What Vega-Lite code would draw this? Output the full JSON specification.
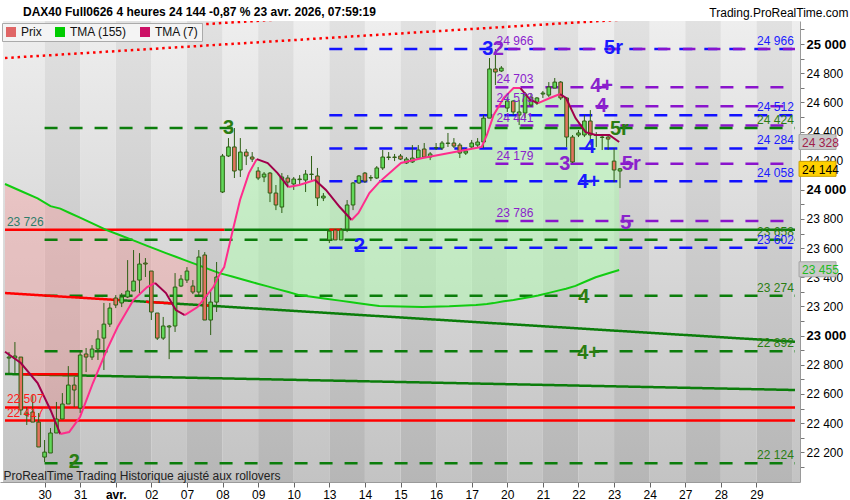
{
  "$schema": "https://vega.github.io/schema/vega-lite/v6.json",
  "width": 800,
  "height": 461,
  "autosize": "none",
  "padding": {"left": 0, "top": 21, "right": 50, "bottom": 18},
  "background": "#ffffff",
  "title": {
    "text": "DAX40 Full0626 4 heures 24 144 -0,87 % 23 avr. 2026, 07:59:19",
    "anchor": "start",
    "frame": "group",
    "dx": 23,
    "offset": -13,
    "fontSize": 12,
    "fontWeight": "bold",
    "color": "#000000"
  },
  "config": {
    "font": "Liberation Sans",
    "view": {"stroke": null},
    "axis": {"labelOverlap": false}
  },
  "datasets": {
    "bands": [
      {"k": 0, "i0": -1, "i1": 6}, {"k": 1, "i0": 6, "i1": 12}, {"k": 2, "i0": 12, "i1": 18},
      {"k": 3, "i0": 18, "i1": 24}, {"k": 4, "i0": 24, "i1": 30}, {"k": 5, "i0": 30, "i1": 36},
      {"k": 6, "i0": 36, "i1": 42}, {"k": 7, "i0": 42, "i1": 48}, {"k": 8, "i0": 48, "i1": 54},
      {"k": 9, "i0": 54, "i1": 60}, {"k": 10, "i0": 60, "i1": 66}, {"k": 11, "i0": 66, "i1": 72},
      {"k": 12, "i0": 72, "i1": 78}, {"k": 13, "i0": 78, "i1": 84}, {"k": 14, "i0": 84, "i1": 90},
      {"k": 15, "i0": 90, "i1": 96}, {"k": 16, "i0": 96, "i1": 102}, {"k": 17, "i0": 102, "i1": 108},
      {"k": 18, "i0": 108, "i1": 114}, {"k": 19, "i0": 114, "i1": 120}, {"k": 20, "i0": 120, "i1": 126},
      {"k": 21, "i0": 126, "i1": 132}, {"k": 22, "i0": 132, "i1": 138}
    ],
    "candles": [
      {"i": 0, "o": 22846, "h": 22887, "l": 22743, "c": 22853},
      {"i": 1, "o": 22846, "h": 22956, "l": 22743, "c": 22860},
      {"i": 2, "o": 22853, "h": 22853, "l": 22455, "c": 22490},
      {"i": 3, "o": 22455, "h": 22510, "l": 22387, "c": 22469},
      {"i": 4, "o": 22476, "h": 22593, "l": 22407, "c": 22407},
      {"i": 5, "o": 22407, "h": 22469, "l": 22236, "c": 22236},
      {"i": 6, "o": 22167, "h": 22284, "l": 22133, "c": 22201},
      {"i": 7, "o": 22195, "h": 22366, "l": 22195, "c": 22332},
      {"i": 8, "o": 22332, "h": 22545, "l": 22332, "c": 22428},
      {"i": 9, "o": 22428, "h": 22606, "l": 22428, "c": 22531},
      {"i": 10, "o": 22531, "h": 22791, "l": 22531, "c": 22661},
      {"i": 11, "o": 22661, "h": 22716, "l": 22510, "c": 22627},
      {"i": 12, "o": 22503, "h": 22901, "l": 22469, "c": 22867},
      {"i": 13, "o": 22874, "h": 22915, "l": 22750, "c": 22853},
      {"i": 14, "o": 22853, "h": 22935, "l": 22833, "c": 22908},
      {"i": 15, "o": 22908, "h": 23038, "l": 22833, "c": 22977},
      {"i": 16, "o": 22983, "h": 23224, "l": 22764, "c": 23079},
      {"i": 17, "o": 23079, "h": 23224, "l": 23059, "c": 23189},
      {"i": 18, "o": 23258, "h": 23278, "l": 23189, "c": 23210},
      {"i": 19, "o": 23224, "h": 23292, "l": 23196, "c": 23265},
      {"i": 20, "o": 23265, "h": 23518, "l": 23258, "c": 23306},
      {"i": 21, "o": 23306, "h": 23587, "l": 23306, "c": 23374},
      {"i": 22, "o": 23381, "h": 23566, "l": 23292, "c": 23491},
      {"i": 23, "o": 23498, "h": 23532, "l": 23402, "c": 23491},
      {"i": 24, "o": 23443, "h": 23443, "l": 23107, "c": 23162},
      {"i": 25, "o": 23155, "h": 23155, "l": 22970, "c": 22983},
      {"i": 26, "o": 22983, "h": 23128, "l": 22970, "c": 23066},
      {"i": 27, "o": 23059, "h": 23073, "l": 22839, "c": 23066},
      {"i": 28, "o": 23066, "h": 23429, "l": 23025, "c": 23333},
      {"i": 29, "o": 23340, "h": 23416, "l": 23333, "c": 23388},
      {"i": 30, "o": 23381, "h": 23470, "l": 23361, "c": 23443},
      {"i": 31, "o": 23340, "h": 23381, "l": 23285, "c": 23299},
      {"i": 32, "o": 23299, "h": 23587, "l": 23265, "c": 23539},
      {"i": 33, "o": 23553, "h": 23573, "l": 23107, "c": 23107},
      {"i": 34, "o": 23107, "h": 23313, "l": 23004, "c": 23230},
      {"i": 35, "o": 23230, "h": 23505, "l": 23162, "c": 23402},
      {"i": 36, "o": 23985, "h": 24246, "l": 23978, "c": 24232},
      {"i": 37, "o": 24232, "h": 24355, "l": 24225, "c": 24294},
      {"i": 38, "o": 24294, "h": 24424, "l": 24081, "c": 24129},
      {"i": 39, "o": 24136, "h": 24355, "l": 24088, "c": 24259},
      {"i": 40, "o": 24259, "h": 24280, "l": 24170, "c": 24232},
      {"i": 41, "o": 24225, "h": 24259, "l": 24191, "c": 24211},
      {"i": 42, "o": 24129, "h": 24156, "l": 24067, "c": 24081},
      {"i": 43, "o": 24088, "h": 24122, "l": 24053, "c": 24108},
      {"i": 44, "o": 24115, "h": 24122, "l": 23916, "c": 23978},
      {"i": 45, "o": 23978, "h": 24033, "l": 23861, "c": 23896},
      {"i": 46, "o": 23882, "h": 24115, "l": 23841, "c": 24088},
      {"i": 47, "o": 24081, "h": 24101, "l": 24019, "c": 24053},
      {"i": 48, "o": 24040, "h": 24088, "l": 23999, "c": 24074},
      {"i": 49, "o": 24074, "h": 24101, "l": 24033, "c": 24070},
      {"i": 50, "o": 24067, "h": 24136, "l": 23985, "c": 24108},
      {"i": 51, "o": 24105, "h": 24232, "l": 24067, "c": 24108},
      {"i": 52, "o": 24095, "h": 24150, "l": 23889, "c": 23944},
      {"i": 53, "o": 23944, "h": 23978, "l": 23923, "c": 23957},
      {"i": 54, "o": 23656, "h": 23724, "l": 23635, "c": 23717},
      {"i": 55, "o": 23724, "h": 23731, "l": 23656, "c": 23656},
      {"i": 56, "o": 23656, "h": 23738, "l": 23656, "c": 23724},
      {"i": 57, "o": 23731, "h": 23930, "l": 23710, "c": 23896},
      {"i": 58, "o": 23896, "h": 24053, "l": 23861, "c": 24047},
      {"i": 59, "o": 24047, "h": 24101, "l": 24040, "c": 24095},
      {"i": 60, "o": 24115, "h": 24122, "l": 24047, "c": 24060},
      {"i": 61, "o": 24081, "h": 24101, "l": 24060, "c": 24084},
      {"i": 62, "o": 24081, "h": 24163, "l": 24074, "c": 24150},
      {"i": 63, "o": 24150, "h": 24273, "l": 24136, "c": 24225},
      {"i": 64, "o": 24222, "h": 24259, "l": 24204, "c": 24225},
      {"i": 65, "o": 24225, "h": 24246, "l": 24197, "c": 24222},
      {"i": 66, "o": 24232, "h": 24246, "l": 24204, "c": 24211},
      {"i": 67, "o": 24184, "h": 24225, "l": 24177, "c": 24211},
      {"i": 68, "o": 24191, "h": 24307, "l": 24184, "c": 24218},
      {"i": 69, "o": 24218, "h": 24307, "l": 24218, "c": 24273},
      {"i": 70, "o": 24280, "h": 24321, "l": 24218, "c": 24225},
      {"i": 71, "o": 24225, "h": 24259, "l": 24204, "c": 24246},
      {"i": 72, "o": 24287, "h": 24321, "l": 24273, "c": 24290},
      {"i": 73, "o": 24287, "h": 24335, "l": 24273, "c": 24321},
      {"i": 74, "o": 24318, "h": 24390, "l": 24294, "c": 24321},
      {"i": 75, "o": 24321, "h": 24355, "l": 24287, "c": 24300},
      {"i": 76, "o": 24307, "h": 24321, "l": 24218, "c": 24252},
      {"i": 77, "o": 24252, "h": 24287, "l": 24239, "c": 24266},
      {"i": 78, "o": 24294, "h": 24342, "l": 24287, "c": 24321},
      {"i": 79, "o": 24307, "h": 24355, "l": 24294, "c": 24328},
      {"i": 80, "o": 24328, "h": 24513, "l": 24287, "c": 24492},
      {"i": 81, "o": 24492, "h": 24904, "l": 24492, "c": 24829},
      {"i": 82, "o": 24829, "h": 24966, "l": 24719, "c": 24808},
      {"i": 83, "o": 24815, "h": 24849, "l": 24808, "c": 24835},
      {"i": 84, "o": 24561, "h": 24636, "l": 24534, "c": 24609},
      {"i": 85, "o": 24609, "h": 24616, "l": 24513, "c": 24534},
      {"i": 86, "o": 24513, "h": 24616, "l": 24444, "c": 24534},
      {"i": 87, "o": 24527, "h": 24671, "l": 24492, "c": 24657},
      {"i": 88, "o": 24582, "h": 24664, "l": 24568, "c": 24636},
      {"i": 89, "o": 24595, "h": 24636, "l": 24582, "c": 24630},
      {"i": 90, "o": 24657, "h": 24678, "l": 24630, "c": 24664},
      {"i": 91, "o": 24650, "h": 24739, "l": 24636, "c": 24705},
      {"i": 92, "o": 24698, "h": 24767, "l": 24698, "c": 24739},
      {"i": 93, "o": 24739, "h": 24746, "l": 24616, "c": 24630},
      {"i": 94, "o": 24630, "h": 24636, "l": 24294, "c": 24362},
      {"i": 95, "o": 24362, "h": 24376, "l": 24184, "c": 24191},
      {"i": 96, "o": 24376, "h": 24410, "l": 24362, "c": 24390},
      {"i": 97, "o": 24376, "h": 24513, "l": 24362, "c": 24472},
      {"i": 98, "o": 24472, "h": 24547, "l": 24307, "c": 24376},
      {"i": 99, "o": 24376, "h": 24396, "l": 24294, "c": 24373},
      {"i": 100, "o": 24362, "h": 24383, "l": 24273, "c": 24359},
      {"i": 101, "o": 24362, "h": 24376, "l": 24273, "c": 24348},
      {"i": 102, "o": 24197, "h": 24287, "l": 24053, "c": 24136},
      {"i": 103, "o": 24129, "h": 24150, "l": 24012, "c": 24144}
    ],
    "ma": [
      {"i": -0.67, "a": 22889, "b": 24040}, {"i": 2.0, "a": 22812, "b": 23992},
      {"i": 4.83, "a": 22675, "b": 23941}, {"i": 7.0, "a": 22490, "b": 23888},
      {"i": 8.66, "a": 22325, "b": 23871}, {"i": 10.15, "a": 22339, "b": 23843},
      {"i": 11.98, "a": 22442, "b": 23809}, {"i": 14.15, "a": 22675, "b": 23768},
      {"i": 16.48, "a": 22901, "b": 23724}, {"i": 18.31, "a": 23059, "b": 23695},
      {"i": 20.97, "a": 23244, "b": 23653}, {"i": 23.3, "a": 23333, "b": 23616},
      {"i": 24.63, "a": 23361, "b": 23595}, {"i": 26.46, "a": 23292, "b": 23566},
      {"i": 28.13, "a": 23175, "b": 23541}, {"i": 29.63, "a": 23141, "b": 23518},
      {"i": 31.79, "a": 23196, "b": 23485}, {"i": 34.45, "a": 23333, "b": 23444},
      {"i": 35.6, "a": 23427, "b": 23427}, {"i": 36.28, "a": 23470, "b": 23420},
      {"i": 37.62, "a": 23704, "b": 23405}, {"i": 38.95, "a": 23930, "b": 23390},
      {"i": 40.45, "a": 24115, "b": 23373}, {"i": 41.78, "a": 24211, "b": 23358},
      {"i": 43.61, "a": 24184, "b": 23338}, {"i": 45.27, "a": 24115, "b": 23319},
      {"i": 47.1, "a": 24019, "b": 23299}, {"i": 48.93, "a": 24033, "b": 23278},
      {"i": 51.6, "a": 24067, "b": 23263}, {"i": 53.43, "a": 23999, "b": 23253},
      {"i": 55.76, "a": 23882, "b": 23240}, {"i": 57.76, "a": 23793, "b": 23229},
      {"i": 58.92, "a": 23841, "b": 23222}, {"i": 60.75, "a": 23978, "b": 23212},
      {"i": 62.42, "a": 24053, "b": 23203}, {"i": 66.08, "a": 24184, "b": 23200},
      {"i": 69.74, "a": 24218, "b": 23197}, {"i": 74.23, "a": 24252, "b": 23201},
      {"i": 78.73, "a": 24287, "b": 23210}, {"i": 79.7, "a": 24294, "b": 23214},
      {"i": 80.56, "a": 24376, "b": 23217}, {"i": 81.7, "a": 24513, "b": 23223},
      {"i": 83.4, "a": 24630, "b": 23236}, {"i": 85.05, "a": 24698, "b": 23244},
      {"i": 86.2, "a": 24698, "b": 23253}, {"i": 87.9, "a": 24616, "b": 23265},
      {"i": 89.2, "a": 24595, "b": 23275}, {"i": 91.2, "a": 24630, "b": 23295},
      {"i": 92.9, "a": 24657, "b": 23312}, {"i": 93.9, "a": 24630, "b": 23322},
      {"i": 95.5, "a": 24492, "b": 23341}, {"i": 97.2, "a": 24396, "b": 23371},
      {"i": 98.9, "a": 24376, "b": 23400}, {"i": 101.2, "a": 24376, "b": 23429},
      {"i": 102.86, "a": 24328, "b": 23450}
    ],
    "ma7": [
      {"s": 1, "dir": "down", "i": -0.67, "v": 22889}, {"s": 1, "dir": "down", "i": 2.0, "v": 22812},
      {"s": 1, "dir": "down", "i": 4.83, "v": 22675}, {"s": 1, "dir": "down", "i": 7.0, "v": 22490},
      {"s": 1, "dir": "down", "i": 8.66, "v": 22325},
      {"s": 2, "dir": "up", "i": 8.66, "v": 22325}, {"s": 2, "dir": "up", "i": 10.15, "v": 22339},
      {"s": 2, "dir": "up", "i": 11.98, "v": 22442}, {"s": 2, "dir": "up", "i": 14.15, "v": 22675},
      {"s": 2, "dir": "up", "i": 16.48, "v": 22901}, {"s": 2, "dir": "up", "i": 18.31, "v": 23059},
      {"s": 2, "dir": "up", "i": 20.97, "v": 23244}, {"s": 2, "dir": "up", "i": 23.3, "v": 23333},
      {"s": 2, "dir": "up", "i": 24.63, "v": 23361},
      {"s": 3, "dir": "down", "i": 24.63, "v": 23361}, {"s": 3, "dir": "down", "i": 26.46, "v": 23292},
      {"s": 3, "dir": "down", "i": 28.13, "v": 23175}, {"s": 3, "dir": "down", "i": 29.63, "v": 23141},
      {"s": 4, "dir": "up", "i": 29.63, "v": 23141}, {"s": 4, "dir": "up", "i": 31.79, "v": 23196},
      {"s": 4, "dir": "up", "i": 34.45, "v": 23333}, {"s": 4, "dir": "up", "i": 35.6, "v": 23427},
      {"s": 4, "dir": "up", "i": 36.28, "v": 23470}, {"s": 4, "dir": "up", "i": 37.62, "v": 23704},
      {"s": 4, "dir": "up", "i": 38.95, "v": 23930}, {"s": 4, "dir": "up", "i": 40.45, "v": 24115},
      {"s": 4, "dir": "up", "i": 41.78, "v": 24211},
      {"s": 5, "dir": "down", "i": 41.78, "v": 24211}, {"s": 5, "dir": "down", "i": 43.61, "v": 24184},
      {"s": 5, "dir": "down", "i": 45.27, "v": 24115}, {"s": 5, "dir": "down", "i": 47.1, "v": 24019},
      {"s": 6, "dir": "up", "i": 47.1, "v": 24019}, {"s": 6, "dir": "up", "i": 48.93, "v": 24033},
      {"s": 6, "dir": "up", "i": 51.6, "v": 24067},
      {"s": 7, "dir": "down", "i": 51.6, "v": 24067}, {"s": 7, "dir": "down", "i": 53.43, "v": 23999},
      {"s": 7, "dir": "down", "i": 55.76, "v": 23882}, {"s": 7, "dir": "down", "i": 57.76, "v": 23793},
      {"s": 8, "dir": "up", "i": 57.76, "v": 23793}, {"s": 8, "dir": "up", "i": 58.92, "v": 23841},
      {"s": 8, "dir": "up", "i": 60.75, "v": 23978}, {"s": 8, "dir": "up", "i": 62.42, "v": 24053},
      {"s": 8, "dir": "up", "i": 66.08, "v": 24184}, {"s": 8, "dir": "up", "i": 69.74, "v": 24218},
      {"s": 8, "dir": "up", "i": 74.23, "v": 24252}, {"s": 8, "dir": "up", "i": 78.73, "v": 24287},
      {"s": 8, "dir": "up", "i": 79.7, "v": 24294}, {"s": 8, "dir": "up", "i": 80.56, "v": 24376},
      {"s": 8, "dir": "up", "i": 81.7, "v": 24513}, {"s": 8, "dir": "up", "i": 83.4, "v": 24630},
      {"s": 8, "dir": "up", "i": 85.05, "v": 24698}, {"s": 8, "dir": "up", "i": 86.2, "v": 24698},
      {"s": 9, "dir": "down", "i": 86.2, "v": 24698}, {"s": 9, "dir": "down", "i": 87.9, "v": 24616},
      {"s": 9, "dir": "down", "i": 89.2, "v": 24595},
      {"s": 10, "dir": "up", "i": 89.2, "v": 24595}, {"s": 10, "dir": "up", "i": 91.2, "v": 24630},
      {"s": 10, "dir": "up", "i": 92.9, "v": 24657},
      {"s": 11, "dir": "down", "i": 92.9, "v": 24657}, {"s": 11, "dir": "down", "i": 93.9, "v": 24630},
      {"s": 11, "dir": "down", "i": 95.5, "v": 24492}, {"s": 11, "dir": "down", "i": 97.2, "v": 24396},
      {"s": 11, "dir": "down", "i": 98.9, "v": 24376}, {"s": 11, "dir": "down", "i": 101.2, "v": 24376},
      {"s": 11, "dir": "down", "i": 102.86, "v": 24328}
    ],
    "lines": [
      {"i0": 54, "i1": 132.5, "p0": 24966, "p1": 24966, "col": "b", "sty": "dash"},
      {"i0": 82, "i1": 132.5, "p0": 24966, "p1": 24966, "col": "p", "sty": "dash2"},
      {"i0": 82, "i1": 132.5, "p0": 24703, "p1": 24703, "col": "p", "sty": "dash"},
      {"i0": 82, "i1": 132.5, "p0": 24573, "p1": 24573, "col": "p", "sty": "dash"},
      {"i0": 54, "i1": 132.5, "p0": 24512, "p1": 24512, "col": "b", "sty": "dash"},
      {"i0": 82, "i1": 132.5, "p0": 24441, "p1": 24441, "col": "p", "sty": "dash"},
      {"i0": 6, "i1": 132.5, "p0": 24424, "p1": 24424, "col": "g", "sty": "dash"},
      {"i0": 54, "i1": 132.5, "p0": 24284, "p1": 24284, "col": "b", "sty": "dash"},
      {"i0": 82, "i1": 132.5, "p0": 24179, "p1": 24179, "col": "p", "sty": "dash"},
      {"i0": 54, "i1": 132.5, "p0": 24058, "p1": 24058, "col": "b", "sty": "dash"},
      {"i0": 82, "i1": 132.5, "p0": 23786, "p1": 23786, "col": "p", "sty": "dash"},
      {"i0": 36.3, "i1": 132.5, "p0": 23726, "p1": 23726, "col": "g", "sty": "solid"},
      {"i0": -0.67, "i1": 36.3, "p0": 23726, "p1": 23726, "col": "r", "sty": "solid"},
      {"i0": 54, "i1": 56, "p0": 23726, "p1": 23726, "col": "r", "sty": "solid"},
      {"i0": 6, "i1": 132.5, "p0": 23658, "p1": 23658, "col": "g", "sty": "dash"},
      {"i0": 54, "i1": 132.5, "p0": 23602, "p1": 23602, "col": "b", "sty": "dash"},
      {"i0": 6, "i1": 132.5, "p0": 23274, "p1": 23274, "col": "g", "sty": "dash"},
      {"i0": 6, "i1": 132.5, "p0": 22892, "p1": 22892, "col": "g", "sty": "dash"},
      {"i0": 6, "i1": 132.5, "p0": 22124, "p1": 22124, "col": "g", "sty": "dash"},
      {"i0": -0.67, "i1": 132.5, "p0": 22507, "p1": 22507, "col": "r", "sty": "solid"},
      {"i0": -0.67, "i1": 132.5, "p0": 22417, "p1": 22417, "col": "r", "sty": "solid"},
      {"i0": 18.8, "i1": 132.5, "p0": 23243, "p1": 22958, "col": "g", "sty": "solid"},
      {"i0": -0.67, "i1": 18.8, "p0": 23292, "p1": 23243, "col": "r", "sty": "solid"},
      {"i0": 23.1, "i1": 27.6, "p0": 23232, "p1": 23221, "col": "r", "sty": "solid"},
      {"i0": 32.6, "i1": 34, "p0": 23208, "p1": 23205, "col": "r", "sty": "solid"},
      {"i0": -0.67, "i1": 132.5, "p0": 22737, "p1": 22627, "col": "g", "sty": "solid"},
      {"i0": 2.2, "i1": 12.2, "p0": 22735, "p1": 22735, "col": "r", "sty": "solid"},
      {"i0": -0.67, "i1": 132.5, "p0": 24904, "p1": 25241, "col": "r", "sty": "dot"},
      {"i0": -0.67, "i1": 132.5, "p0": 25051, "p1": 25389, "col": "r", "sty": "dot"}
    ],
    "labels": [
      {"pos": "r", "t": "24 966", "p": 24966, "col": "b"},
      {"pos": "r", "t": "24 512", "p": 24512, "col": "b"},
      {"pos": "r", "t": "24 424", "p": 24424, "col": "g"},
      {"pos": "r", "t": "24 284", "p": 24284, "col": "b"},
      {"pos": "r", "t": "24 058", "p": 24058, "col": "b"},
      {"pos": "r", "t": "23 658", "p": 23658, "col": "g"},
      {"pos": "r", "t": "23 602", "p": 23602, "col": "b"},
      {"pos": "r", "t": "23 274", "p": 23274, "col": "g"},
      {"pos": "r", "t": "22 892", "p": 22892, "col": "g"},
      {"pos": "r", "t": "22 124", "p": 22124, "col": "g"},
      {"pos": "l", "i": -0.35, "t": "23 726", "p": 23726, "col": "t"},
      {"pos": "l", "i": -0.35, "t": "22 507", "p": 22507, "col": "r"},
      {"pos": "l", "i": -0.35, "t": "22 417", "p": 22417, "col": "r"},
      {"pos": "l", "i": 82.2, "t": "24 966", "p": 24966, "col": "p"},
      {"pos": "l", "i": 82.2, "t": "24 703", "p": 24703, "col": "p"},
      {"pos": "l", "i": 82.2, "t": "24 573", "p": 24573, "col": "p"},
      {"pos": "l", "i": 82.2, "t": "24 441", "p": 24441, "col": "p"},
      {"pos": "l", "i": 82.2, "t": "24 179", "p": 24179, "col": "p"},
      {"pos": "l", "i": 82.2, "t": "23 786", "p": 23786, "col": "p"},
      {"pos": "w", "i": 80.7, "t": "3", "p": 24973, "col": "b"},
      {"pos": "w", "i": 82.5, "t": "2", "p": 24973, "col": "p"},
      {"pos": "w", "i": 101.9, "t": "5r", "p": 24979, "col": "b"},
      {"pos": "w", "i": 99.9, "t": "4+", "p": 24722, "col": "p"},
      {"pos": "w", "i": 99.9, "t": "4", "p": 24582, "col": "p"},
      {"pos": "w", "i": 102.9, "t": "5r", "p": 24427, "col": "g"},
      {"pos": "w", "i": 97.9, "t": "4", "p": 24300, "col": "b"},
      {"pos": "w", "i": 93.7, "t": "3", "p": 24184, "col": "p"},
      {"pos": "w", "i": 104.9, "t": "5r", "p": 24184, "col": "p"},
      {"pos": "w", "i": 97.7, "t": "4+", "p": 24060, "col": "b"},
      {"pos": "w", "i": 104.0, "t": "5", "p": 23779, "col": "p"},
      {"pos": "w", "i": 59.1, "t": "2", "p": 23621, "col": "b"},
      {"pos": "w", "i": 37.0, "t": "3", "p": 24431, "col": "g"},
      {"pos": "w", "i": 96.9, "t": "4", "p": 23275, "col": "g"},
      {"pos": "w", "i": 97.7, "t": "4+", "p": 22891, "col": "g"},
      {"pos": "w", "i": 11.0, "t": "2", "p": 22140, "col": "g"}
    ],
    "tags": [
      {"t": "24 328", "p": 24328, "kind": "ma7"},
      {"t": "24 144", "p": 24144, "kind": "last"},
      {"t": "23 455", "p": 23455, "kind": "ma155"}
    ]
  },
  "layer": [
    {
      "data": {"name": "bands"},
      "transform": [{"filter": "datum.k % 2 === 0"}],
      "mark": {
        "type": "rect",
        "clip": true,
        "fill": {"gradient": "linear", "x1": 0, "y1": 0, "x2": 0, "y2": 1,
          "stops": [{"offset": 0, "color": "#eeeeee"}, {"offset": 1, "color": "#c3c3c3"}]}
      },
      "encoding": {
        "x": {
          "field": "i0", "type": "quantitative",
          "scale": {"domain": [-0.67, 132.5], "nice": false, "zero": false},
          "axis": {
            "orient": "bottom",
            "zindex": 1,
            "values": [6, 12, 18, 24, 30, 36, 42, 48, 54, 60, 66, 72, 78, 84, 90, 96, 102, 108, 114, 120, 126],
            "tickCount": 500,
            "labelExpr": "['30','31','avr.','02','07','08','09','10','13','14','15','16','17','20','21','22','23','24','27','28','29'][datum.value / 6 - 1]",
            "labelFontWeight": {"condition": {"test": "datum.value === 18", "value": "bold"}, "value": "normal"},
            "labelFontSize": 12,
            "labelColor": "#000000",
            "labelPadding": 2,
            "labelOverlap": false,
            "labelFlush": false,
            "grid": false,
            "domainColor": "#9a9a9a",
            "tickColor": "#666666",
            "tickSize": 5,
            "title": "ProRealTime Trading  Historique ajusté aux rollovers",
            "titleX": 3,
            "titleY": -3,
            "titleAlign": "left",
            "titleBaseline": "alphabetic",
            "titleFontWeight": "normal",
            "titleFontSize": 12,
            "titleColor": "#222222"
          }
        },
        "x2": {"field": "i1"},
        "y": {
          "datum": 25158, "type": "quantitative",
          "scale": {"domain": [21996, 25158], "nice": false, "zero": false},
          "axis": {
            "orient": "right",
            "values": [22100, 22200, 22300, 22400, 22500, 22600, 22700, 22800, 22900, 23000, 23100, 23200, 23300, 23400, 23500, 23600, 23700, 23800, 23900, 24000, 24100, 24200, 24300, 24400, 24500, 24600, 24700, 24800, 24900, 25000, 25100],
            "tickCount": 500,
            "labelExpr": "datum.value % 200 === 0 ? replace(format(datum.value, ','), ',', ' ') : ''",
            "labelOverlap": false,
            "labelFontSize": {"condition": {"test": "datum.value % 1000 === 0", "value": 13}, "value": 12},
            "labelFontWeight": {"condition": {"test": "datum.value % 1000 === 0", "value": "bold"}, "value": "normal"},
            "labelColor": "#000000",
            "labelPadding": 2,
            "tickSize": 4,
            "tickColor": "#777777",
            "domainColor": "#9a9a9a",
            "grid": false,
            "title": "Trading.ProRealTime.com",
            "titleAngle": 0,
            "titleAlign": "right",
            "titleBaseline": "middle",
            "titleX": 48,
            "titleY": -9,
            "titleFontWeight": "normal",
            "titleFontSize": 12,
            "titleColor": "#000000"
          }
        },
        "y2": {"datum": 21996}
      }
    },
    {
      "data": {"name": "bands"},
      "transform": [{"filter": "datum.k % 2 === 1"}],
      "mark": {
        "type": "rect",
        "clip": true,
        "fill": {"gradient": "linear", "x1": 0, "y1": 0, "x2": 0, "y2": 1,
          "stops": [{"offset": 0, "color": "#e1e1e1"}, {"offset": 1, "color": "#b6b6b6"}]}
      },
      "encoding": {
        "x": {"field": "i0", "type": "quantitative", "scale": {"domain": [-0.67, 132.5], "nice": false, "zero": false}},
        "x2": {"field": "i1"},
        "y": {"datum": 25158, "type": "quantitative", "scale": {"domain": [21996, 25158], "nice": false, "zero": false}},
        "y2": {"datum": 21996}
      }
    },
    {
      "data": {"name": "ma"},
      "transform": [{"filter": "datum.i <= 35.6"}],
      "mark": {"type": "area", "fill": "#ff8f8f", "opacity": 0.33},
      "encoding": {
        "x": {"field": "i", "type": "quantitative", "scale": {"domain": [-0.67, 132.5], "nice": false, "zero": false}},
        "y": {"field": "b", "type": "quantitative", "scale": {"domain": [21996, 25158], "nice": false, "zero": false}},
        "y2": {"field": "a"}
      }
    },
    {
      "data": {"name": "ma"},
      "transform": [{"filter": "datum.i >= 35.6"}],
      "mark": {"type": "area", "fill": "#aaffaa", "opacity": 0.46},
      "encoding": {
        "x": {"field": "i", "type": "quantitative", "scale": {"domain": [-0.67, 132.5], "nice": false, "zero": false}},
        "y": {"field": "a", "type": "quantitative", "scale": {"domain": [21996, 25158], "nice": false, "zero": false}},
        "y2": {"field": "b"}
      }
    },
    {
      "data": {"name": "lines"},
      "mark": {"type": "rule", "clip": true},
      "encoding": {
        "x": {"field": "i0", "type": "quantitative", "scale": {"domain": [-0.67, 132.5], "nice": false, "zero": false}},
        "x2": {"field": "i1"},
        "y": {"field": "p0", "type": "quantitative", "scale": {"domain": [21996, 25158], "nice": false, "zero": false}},
        "y2": {"field": "p1"},
        "stroke": {"field": "col", "type": "nominal", "legend": null,
          "scale": {"domain": ["b", "p", "g", "r", "up", "down"], "range": ["#1111ff", "#8a14cc", "#0b7d0b", "#ff0000", "#ff2d8c", "#a0004a"]}},
        "strokeDash": {"field": "sty", "type": "nominal", "legend": null,
          "scale": {"domain": ["dash", "dash2", "solid", "dot"], "range": [[13, 12], [0, 12.5, 12.5, 0], [1, 0], [2.5, 3.8]]}},
        "strokeWidth": {"field": "sty", "type": "nominal", "legend": null,
          "scale": {"domain": ["dash", "dash2", "solid", "dot"], "range": [2.5, 2.5, 2.2, 2.6]}}
      }
    },
    {
      "data": {"name": "ma"},
      "mark": {"type": "line", "stroke": "#11cc11", "strokeWidth": 2},
      "encoding": {
        "x": {"field": "i", "type": "quantitative", "scale": {"domain": [-0.67, 132.5], "nice": false, "zero": false}},
        "y": {"field": "b", "type": "quantitative", "scale": {"domain": [21996, 25158], "nice": false, "zero": false}}
      }
    },
    {
      "data": {"name": "candles"},
      "mark": {"type": "rule", "stroke": "#2d5f14", "strokeWidth": 1},
      "encoding": {
        "x": {"field": "i", "type": "quantitative", "scale": {"domain": [-0.67, 132.5], "nice": false, "zero": false}},
        "y": {"field": "l", "type": "quantitative", "scale": {"domain": [21996, 25158], "nice": false, "zero": false}},
        "y2": {"field": "h"}
      }
    },
    {
      "data": {"name": "candles"},
      "mark": {"type": "bar", "size": 3.6, "stroke": "#2d5f14", "strokeWidth": 1},
      "encoding": {
        "x": {"field": "i", "type": "quantitative", "scale": {"domain": [-0.67, 132.5], "nice": false, "zero": false}},
        "y": {"field": "o", "type": "quantitative", "scale": {"domain": [21996, 25158], "nice": false, "zero": false}},
        "y2": {"field": "c"},
        "fill": {"condition": {"test": "datum.c >= datum.o", "value": "#62d85a"}, "value": "#e2735e"}
      }
    },
    {
      "data": {"name": "ma7"},
      "mark": {"type": "line", "strokeWidth": 2},
      "encoding": {
        "x": {"field": "i", "type": "quantitative", "scale": {"domain": [-0.67, 132.5], "nice": false, "zero": false}},
        "y": {"field": "v", "type": "quantitative", "scale": {"domain": [21996, 25158], "nice": false, "zero": false}},
        "detail": {"field": "s", "type": "nominal"},
        "stroke": {"field": "dir", "type": "nominal", "legend": null,
          "scale": {"domain": ["b", "p", "g", "r", "up", "down"], "range": ["#1111ff", "#8a14cc", "#0b7d0b", "#ff0000", "#ff2d8c", "#a0004a"]}}
      }
    },
    {
      "data": {"name": "labels"},
      "transform": [{"filter": "datum.pos === 'r'"}],
      "mark": {"type": "text", "align": "right", "baseline": "bottom", "dy": -1, "fontSize": 12},
      "encoding": {
        "x": {"datum": 132.3, "type": "quantitative", "scale": {"domain": [-0.67, 132.5], "nice": false, "zero": false}},
        "y": {"field": "p", "type": "quantitative", "scale": {"domain": [21996, 25158], "nice": false, "zero": false}},
        "text": {"field": "t"},
        "fill": {"field": "col", "type": "nominal", "legend": null,
          "scale": {"domain": ["b", "p", "g", "r", "t"], "range": ["#1a1aff", "#8a22cc", "#2a7d12", "#ff1a1a", "#2e7d6a"]}}
      }
    },
    {
      "data": {"name": "labels"},
      "transform": [{"filter": "datum.pos === 'l'"}],
      "mark": {"type": "text", "align": "left", "baseline": "bottom", "dy": -1, "fontSize": 12},
      "encoding": {
        "x": {"field": "i", "type": "quantitative", "scale": {"domain": [-0.67, 132.5], "nice": false, "zero": false}},
        "y": {"field": "p", "type": "quantitative", "scale": {"domain": [21996, 25158], "nice": false, "zero": false}},
        "text": {"field": "t"},
        "fill": {"field": "col", "type": "nominal", "legend": null,
          "scale": {"domain": ["b", "p", "g", "r", "t"], "range": ["#1a1aff", "#8a22cc", "#2a7d12", "#ff1a1a", "#2e7d6a"]}}
      }
    },
    {
      "data": {"name": "labels"},
      "transform": [{"filter": "datum.pos === 'w'"}],
      "mark": {"type": "text", "align": "center", "baseline": "middle", "dy": 1, "fontSize": 20, "fontWeight": "bold"},
      "encoding": {
        "x": {"field": "i", "type": "quantitative", "scale": {"domain": [-0.67, 132.5], "nice": false, "zero": false}},
        "y": {"field": "p", "type": "quantitative", "scale": {"domain": [21996, 25158], "nice": false, "zero": false}},
        "text": {"field": "t"},
        "fill": {"field": "col", "type": "nominal", "legend": null,
          "scale": {"domain": ["b", "p", "g", "r", "t"], "range": ["#1a1aff", "#8a22cc", "#2a7d12", "#ff1a1a", "#2e7d6a"]}}
      }
    },
    {
      "data": {"name": "tags"},
      "mark": {"type": "tick", "orient": "horizontal", "thickness": 15, "size": 37, "strokeWidth": 1, "opacity": 1},
      "encoding": {
        "x": {"datum": 136.3, "type": "quantitative", "scale": {"domain": [-0.67, 132.5], "nice": false, "zero": false}},
        "y": {"field": "p", "type": "quantitative", "scale": {"domain": [21996, 25158], "nice": false, "zero": false}},
        "fill": {"condition": {"test": "datum.kind === 'last'", "value": "#ffd000"}, "value": "#c9c9c9"},
        "stroke": {"condition": {"test": "datum.kind === 'last'", "value": "#c9a200"}, "value": "#a5a5a5"}
      }
    },
    {
      "data": {"name": "tags"},
      "mark": {"type": "text", "align": "left", "baseline": "middle", "fontSize": 12, "dy": 1},
      "encoding": {
        "x": {"datum": 133.7, "type": "quantitative", "scale": {"domain": [-0.67, 132.5], "nice": false, "zero": false}},
        "y": {"field": "p", "type": "quantitative", "scale": {"domain": [21996, 25158], "nice": false, "zero": false}},
        "text": {"field": "t"},
        "fill": {"condition": [{"test": "datum.kind === 'last'", "value": "#000000"}, {"test": "datum.kind === 'ma7'", "value": "#a0204a"}], "value": "#22bb22"}
      }
    },
    {
      "data": {"name": "tags"},
      "mark": {"type": "square", "opacity": 0, "size": 1},
      "encoding": {
        "x": {"datum": 133.0, "type": "quantitative", "scale": {"domain": [-0.67, 132.5], "nice": false, "zero": false}},
        "y": {"field": "p", "type": "quantitative", "scale": {"domain": [21996, 25158], "nice": false, "zero": false}},
        "color": {
          "datum": "Prix",
          "type": "nominal",
          "scale": {"domain": ["Prix", "TMA (155)", "TMA (7)"], "range": ["#e06666", "#00cc00", "#cc1166"]},
          "legend": {
            "title": null,
            "orient": "none",
            "legendX": 2,
            "legendY": 2,
            "direction": "horizontal",
            "symbolType": "square",
            "symbolSize": 100,
            "symbolOpacity": 1,
            "symbolStrokeWidth": 0,
            "labelFontSize": 12,
            "labelColor": "#111111",
            "fillColor": "#f4f4f4",
            "strokeColor": "#aaaaaa",
            "padding": 3,
            "columnPadding": 12,
            "labelOffset": 4
          }
        }
      }
    }
  ]
}
